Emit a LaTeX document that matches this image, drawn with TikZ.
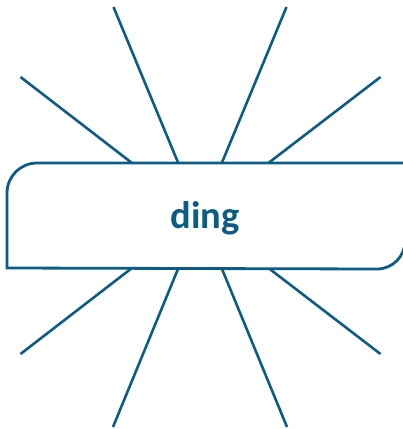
\documentclass[tikz,border=0pt]{standalone}
\usepackage{fontspec}
\setmainfont{Carlito}
\definecolor{rayblue}{HTML}{0B5D86}
\begin{document}
\begin{tikzpicture}[x=1pt,y=-1pt,
  ray/.style={draw=rayblue,line width=2.6pt},
  banner/.style={draw=rayblue,line width=2.8pt,fill=white},
  label/.style={text=rayblue,font=\bfseries\fontsize{38.5}{44}\selectfont,anchor=base}]
\useasboundingbox (0,0) rectangle (403,429);
\coordinate (c) at (200,215.5);
\coordinate (o1) at (113.5,7);
\coordinate (o2) at (286.5,7);
\coordinate (o3) at (20.5,77);
\coordinate (o4) at (380.5,77);
\coordinate (o5) at (20.5,354);
\coordinate (o6) at (380.5,354);
\coordinate (o7) at (113,427);
\coordinate (o8) at (287,427);
\foreach \o in {o1,o2,o3,o4,o5,o6,o7,o8}
  \draw[ray] (c) -- (\o);
\path[banner] (7,268) -- (7,193) arc[start angle=180,end angle=270,radius=30]
  -- (405,163) -- (405,241) arc[start angle=0,end angle=90,radius=28] -- cycle;
\node[label] (t) at (205,228) {ding};
\end{tikzpicture}
\end{document}
